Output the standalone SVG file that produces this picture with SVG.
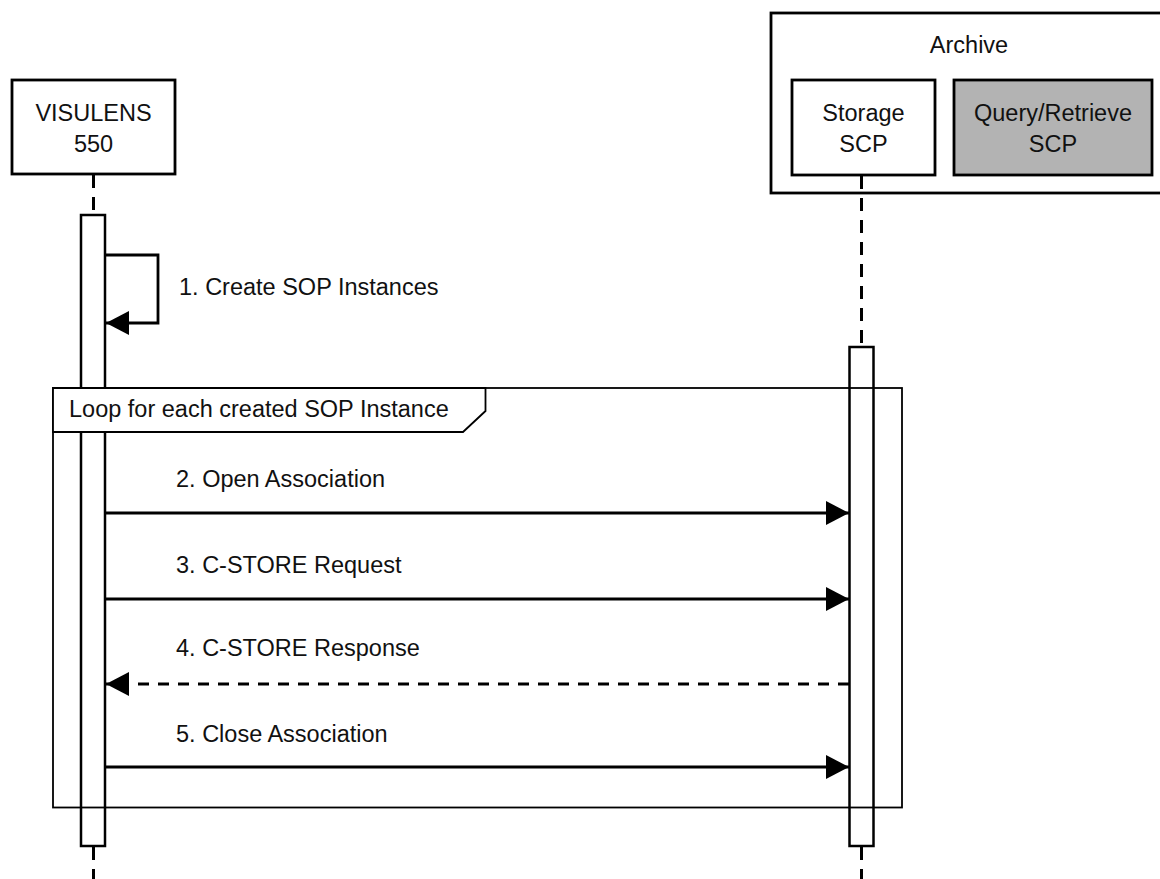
<svg xmlns="http://www.w3.org/2000/svg" width="1160" height="879" viewBox="0 0 1160 879">
<style>
text{font-family:"Liberation Sans",Arial,sans-serif;font-size:23.5px;fill:#111}
.c{text-anchor:middle}
.box{fill:#fff;stroke:#000;stroke-width:2.8}
.life{stroke:#000;stroke-width:3;stroke-dasharray:13 9;fill:none}
.bar{fill:#fff;stroke:#000;stroke-width:2.5}
.msg{stroke:#000;stroke-width:2.8;fill:none}
.dash{stroke-dasharray:11 9}
.frame{fill:none;stroke:#000;stroke-width:1.8}
</style>
<defs>
<marker id="ah" markerUnits="userSpaceOnUse" markerWidth="24" markerHeight="24" viewBox="0 0 23 24" refX="23" refY="12" orient="auto">
<path d="M0,0 L23,12 L0,24 z" fill="#000"/>
</marker>
</defs>
<g id="archive">
<rect class="box" x="771" y="13" width="420" height="180"/>
<text class="c" x="969" y="53">Archive</text>
</g>
<g id="lifelines">
<line class="life" x1="93.5" y1="175" x2="93.5" y2="215"/>
<line class="life" x1="861.5" y1="176" x2="861.5" y2="347"/>
<line class="life" x1="93.5" y1="847" x2="93.5" y2="879"/>
<line class="life" x1="861.5" y1="847" x2="861.5" y2="879"/>
</g>
<g id="visulens">
<rect class="box" x="12" y="80" width="163" height="94"/>
<text class="c" x="93.5" y="121">VISULENS</text>
<text class="c" x="93.5" y="152">550</text>
</g>
<g id="storage">
<rect class="box" x="792" y="80" width="143" height="95"/>
<text class="c" x="863.5" y="121">Storage</text>
<text class="c" x="863.5" y="152">SCP</text>
</g>
<g id="query">
<rect class="box" x="954" y="80" width="198" height="95" style="fill:#b3b3b3"/>
<text class="c" x="1053" y="121">Query/Retrieve</text>
<text class="c" x="1053" y="152">SCP</text>
</g>
<g id="activations">
<rect class="bar" x="81" y="215" width="24" height="631"/>
<rect class="bar" x="849.5" y="347" width="24" height="499"/>
</g>
<g id="loop">
<rect class="frame" x="53" y="388" width="849" height="419.5"/>
<path d="M53,388 L485.5,388 L485.5,411 L463,432 L53,432 z" fill="#fff" stroke="#000" stroke-width="1.8"/>
<text x="69" y="417">Loop for each created SOP Instance</text>
</g>
<g id="connectors">
<path class="msg" d="M105,255 L158,255 L158,323 L106,323" marker-end="url(#ah)"/>
<text x="179" y="295">1. Create SOP Instances</text>
<line class="msg" x1="105" y1="513" x2="849" y2="513" marker-end="url(#ah)"/>
<text x="176" y="487">2. Open Association</text>
<line class="msg" x1="105" y1="599" x2="849" y2="599" marker-end="url(#ah)"/>
<text x="176" y="573">3. C-STORE Request</text>
<line class="msg dash" x1="849" y1="684" x2="106" y2="684" marker-end="url(#ah)"/>
<text x="176" y="656">4. C-STORE Response</text>
<line class="msg" x1="105" y1="767" x2="849" y2="767" marker-end="url(#ah)"/>
<text x="176" y="742">5. Close Association</text>
</g>
</svg>
